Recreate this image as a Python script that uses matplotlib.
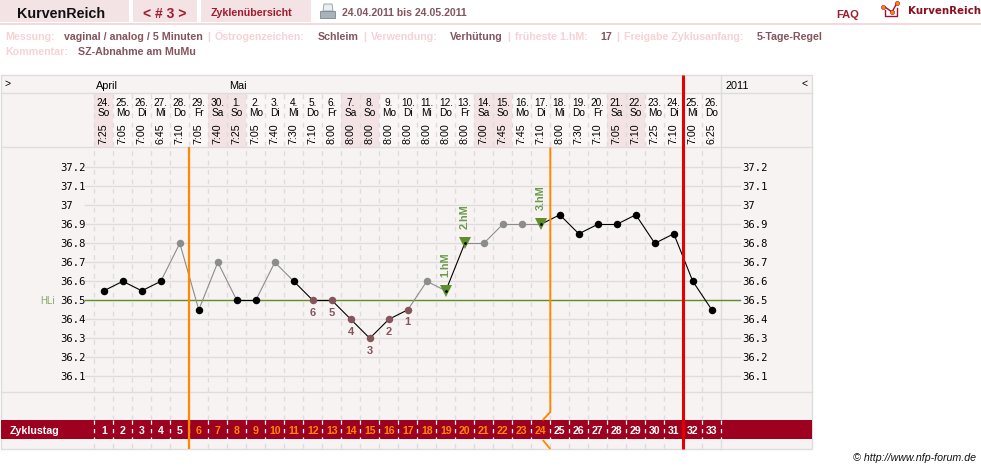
import matplotlib
matplotlib.use("Agg")
import matplotlib.pyplot as plt
from matplotlib.patches import Rectangle, Polygon

# Cycle data
cycle_days = list(range(1, 34))
temps = [36.55, 36.6, 36.55, 36.6, 36.8, 36.45, 36.7, 36.5, 36.5, 36.7, 36.6,
         36.5, 36.5, 36.4, 36.3, 36.4, 36.45, 36.6, 36.55, 36.8, 36.8, 36.9,
         36.9, 36.9, 36.95, 36.85, 36.9, 36.9, 36.95, 36.8, 36.85, 36.6, 36.45]
dates = ["24.", "25.", "26.", "27.", "28.", "29.", "30.", "1.", "2.", "3.", "4.",
         "5.", "6.", "7.", "8.", "9.", "10.", "11.", "12.", "13.", "14.", "15.",
         "16.", "17.", "18.", "19.", "20.", "21.", "22.", "23.", "24.", "25.", "26."]
weekdays = ["So", "Mo", "Di", "Mi", "Do", "Fr", "Sa", "So", "Mo", "Di", "Mi",
            "Do", "Fr", "Sa", "So", "Mo", "Di", "Mi", "Do", "Fr", "Sa", "So",
            "Mo", "Di", "Mi", "Do", "Fr", "Sa", "So", "Mo", "Di", "Mi", "Do"]
times = ["7:25", "7:05", "7:00", "6:45", "7:10", "7:05", "7:40", "7:25", "7:05",
         "7:40", "7:30", "7:10", "8:00", "8:00", "8:00", "8:00", "8:00", "8:00",
         "8:00", "8:00", "7:00", "7:45", "7:45", "7:10", "8:00", "7:30", "7:10",
         "7:05", "7:10", "7:25", "7:10", "7:00", "6:25"]
excluded_days = [5, 7, 10, 18, 21, 22, 23]
low_days = [12, 13, 14, 15, 16, 17]
low_labels = ["6", "5", "4", "3", "2", "1"]
hm_days = [19, 20, 24]
hm_labels = ["1.hM", "2.hM", "3.hM"]
temp_ticks = [37.2, 37.1, 37, 36.9, 36.8, 36.7, 36.6, 36.5, 36.4, 36.3, 36.2, 36.1]
hli_temp = 36.5
infertile_days = (6, 24)
today_boundary = 31.5

# Colours
PANEL = "#f8f3f3"
PINK = "#f3e3e5"
RULE = "#dedcdc"
BAND = "#9e0020"
ORANGE = "#ff8800"
RED = "#e60000"
BROWN = "#85555c"
LABEL_PINK = "#f7d2d5"
DARK_RED = "#a01c2c"
GREEN = "#5f8f2a"
GREY = "#8c8c8c"

NARROW = ["Liberation Sans Narrow", "Liberation Sans"]
SANS = ["Liberation Sans"]
MONO = ["DejaVu Sans Mono"]

COL_LEFT = 94.3
COL_W = 19.0
CHART_TOP = 148.0
CHART_BOTTOM = 392.0
WIDTH, HEIGHT = 981, 469


def col_px(day):
    return COL_LEFT + (day - 0.5) * COL_W


fig = plt.figure(figsize=(WIDTH / 100, HEIGHT / 100), dpi=100, facecolor="white")

# Page furniture is laid out in pixels
page = fig.add_axes([0, 0, 1, 1])
page.set_xlim(0, WIDTH)
page.set_ylim(HEIGHT, 0)
page.axis("off")


def rect(x0, y0, x1, y1, color, z=1):
    page.add_patch(Rectangle((x0, y0), x1 - x0, y1 - y0, facecolor=color, edgecolor="none", zorder=z))


def label(x, y, s, size=8, color="black", weight="normal", family=SANS, ha="left", va="center_baseline"):
    page.text(x, y, s, fontsize=size, color=color, fontweight=weight, family=family,
              ha=ha, va=va, zorder=8)


# Top tabs
rect(0, 0, 128.5, 22.5, PINK)
rect(133, 0, 197, 22.5, PINK)
rect(201, 0, 311, 22.5, PINK)
rect(0, 23, WIDTH, 25, "#f3d9dc")
label(16.5, 12.5, "KurvenReich", size=10.3, weight="bold", color="#111111")
label(143, 12.5, "< # 3 >", size=10, weight="bold", color=DARK_RED)
label(211, 12.5, "Zyklenübersicht", size=7.7, weight="bold", color=DARK_RED)
label(342, 12.5, "24.04.2011 bis 24.05.2011", size=7.6, weight="bold", color=BROWN)
label(836, 14.5, "FAQ", size=8, weight="bold", color=DARK_RED)
label(908, 10.5, "KurvenReich", size=7.4, weight="bold", color="#8a0f20", family=["DejaVu Sans"])

# Printer icon
page.add_patch(Polygon([(324, 4), (332, 4), (333, 11), (323, 11)], facecolor="#e8eef2", edgecolor="#8f9aa3", lw=0.6))
page.add_patch(Polygon([(320, 11), (335, 11), (335, 18), (320, 18)], facecolor="#a9b2b8", edgecolor="#7d868c", lw=0.6))

# Logo icon
page.plot([885, 885, 897, 897], [10, 16, 16, 8], color="#a01030", lw=1.0)
page.plot([885, 892, 897], [7, 12, 3], color="#a01030", lw=1.0)
page.plot([883, 892, 897], [7, 12, 3], "o", color=ORANGE, ms=3, mec="#a01030", mew=0.4)

# Meta rows
meta_row = [(5, "Messung:", LABEL_PINK), (64, "vaginal / analog / 5 Minuten", BROWN),
            (207, "|", LABEL_PINK), (215, "Östrogenzeichen:", LABEL_PINK),
            (318, "Schleim", BROWN), (363, "|", LABEL_PINK), (371, "Verwendung:", LABEL_PINK),
            (450, "Verhütung", BROWN), (507, "|", LABEL_PINK), (515, "früheste 1.hM:", LABEL_PINK),
            (600, "17", BROWN), (616, "|", LABEL_PINK), (624, "Freigabe Zyklusanfang:", LABEL_PINK),
            (757, "5-Tage-Regel", BROWN)]
for x, s, c in meta_row:
    label(x, 40, s, size=7.7, weight="bold", color=c, va="baseline")
label(5, 55, "Kommentar:", size=7.7, weight="bold", color=LABEL_PINK, va="baseline")
label(78, 55, "SZ-Abnahme am MuMu", size=7.7, weight="bold", color=BROWN, va="baseline")

# Chart panel
rect(0.5, 75, 811.5, 449.5, PANEL)
rect(COL_LEFT, 94, COL_LEFT + 33 * COL_W, 147.5, "#faf6f6", z=1.1)
for day, wd in zip(cycle_days, weekdays):
    if wd in ("Sa", "So"):
        rect(col_px(day) - COL_W / 2, 94, col_px(day) + COL_W / 2, 147.5, PINK, z=1.2)
page.add_patch(Rectangle((0.5, 75), 811, 374.5, facecolor="none", edgecolor=RULE, lw=1.0, zorder=2))
for y in (93, 147.5, 392.5):
    page.plot([0.5, 811.5], [y, y], color=RULE, lw=1.0, zorder=2)

# Dashed day separators
for i in range(33):
    x = COL_LEFT + i * COL_W
    page.plot([x, x], [94, 449], color=RULE, lw=1.0, dashes=(3.4, 3.4), zorder=2)
x_end = COL_LEFT + 33 * COL_W
page.plot([x_end, x_end], [75, 449.5], color=RULE, lw=1.0, zorder=2)

# Zyklustag band
rect(0.5, 420, 811.5, 439.5, BAND, z=3)
for i in range(34):
    x = COL_LEFT + i * COL_W
    page.plot([x, x], [420, 439.5], color="white", lw=0.9, dashes=(3.4, 3.4), zorder=3.1)
label(10, 430, "Zyklustag", size=7.7, weight="bold", color="white")
for day in cycle_days:
    c = ORANGE if infertile_days[0] <= day <= infertile_days[1] else "white"
    label(col_px(day), 430, str(day), size=7.6, weight="bold", color=c, ha="center")

# Header rows
label(4.5, 82.5, ">", size=7.5, family=SANS)
label(96, 85, "April", size=7.8, family=NARROW)
label(229, 85, "Mai", size=7.8, family=NARROW)
label(726, 85, "2011", size=7.8, family=NARROW)
label(801, 83, "<", size=7.5, family=SANS)
for day, d, wd, t in zip(cycle_days, dates, weekdays, times):
    x = col_px(day)
    label(x, 101.5, d, size=7.3, family=NARROW, ha="center")
    label(x, 111.5, wd, size=7.3, family=NARROW, ha="center")
    page.text(x, 134, t, fontsize=7.7, family=NARROW, rotation=90, ha="center", va="center", zorder=8)

# Temperature chart in its own data coordinates
ax = fig.add_axes([COL_LEFT / WIDTH, 1 - CHART_BOTTOM / HEIGHT,
                   33 * COL_W / WIDTH, (CHART_BOTTOM - CHART_TOP) / HEIGHT])
ax.set_xlim(0.5, 33.5)
px_per_deg = 190.0
y_372 = 167.3
ax.set_ylim(37.2 - (CHART_BOTTOM - y_372) / px_per_deg, 37.2 + (y_372 - CHART_TOP) / px_per_deg)
ax.axis("off")
ax.patch.set_alpha(0)

# Grid lines run past the day columns to reach the tick labels
x_left_grid = 0.5 - (COL_LEFT - 85) / COL_W
x_right_grid = 33.5 + (740 - x_end) / COL_W
for t in temp_ticks:
    ax.plot([x_left_grid, x_right_grid], [t, t], color=RULE, lw=1.0, zorder=1, clip_on=False)
    ax.text(x_left_grid - 25 / COL_W, t, str(t), fontsize=7.6, family=MONO, ha="left", va="center_baseline", clip_on=False)
    ax.text(x_right_grid + 2 / COL_W, t, str(t), fontsize=7.6, family=MONO, ha="left", va="center_baseline", clip_on=False)
ax.plot([x_left_grid, x_right_grid], [hli_temp, hli_temp], color=GREEN, lw=1.0, zorder=1.5, clip_on=False)
ax.text(x_left_grid - 45 / COL_W, hli_temp, "HLi", fontsize=7, family=SANS, color="#86a86a", ha="left", va="center_baseline", clip_on=False)

# Curve segments, thin grey wherever an excluded reading is involved
for i in range(len(cycle_days) - 1):
    d0, d1 = cycle_days[i], cycle_days[i + 1]
    grey = d0 in excluded_days or d1 in excluded_days
    ax.plot([d0, d1], [temps[i], temps[i + 1]], color=GREY if grey else "black",
            lw=0.8, zorder=3, solid_capstyle="round")

# Readings
for day, t in zip(cycle_days, temps):
    if day in hm_days:
        ax.plot(day, t, marker="v", ms=8.5, color=GREEN, mew=0, zorder=4)
        ax.plot(day, t, marker="o", ms=2, color="black", mew=0, zorder=5)
    else:
        if day in excluded_days:
            c = GREY
        elif day in low_days:
            c = BROWN
        else:
            c = "black"
        ax.plot(day, t, marker="o", ms=5.4, color=c, mew=0, zorder=4)

for day, s in zip(low_days, low_labels):
    ax.annotate(s, (day, temps[day - 1]), xytext=(0, -9), textcoords="offset points", fontsize=8,
                fontweight="bold", family=SANS, color=BROWN, ha="center", va="center")
for day, s in zip(hm_days, hm_labels):
    ax.annotate(s, (day, temps[day - 1]), xytext=(0, 10), textcoords="offset points", fontsize=7.8,
                fontweight="bold", family=SANS, color="#6a9a4a", ha="center", va="bottom", rotation=90,
                annotation_clip=False)

# Infertile window boundaries and the end-of-cycle marker
page2 = fig.add_axes([0, 0, 1, 1])
page2.set_xlim(0, WIDTH)
page2.set_ylim(HEIGHT, 0)
page2.axis("off")
page2.patch.set_alpha(0)
x_start = col_px(infertile_days[0]) - COL_W / 2
x_stop = col_px(infertile_days[1]) + COL_W / 2
page2.plot([x_start, x_start], [147.5, 449.5], color=ORANGE, lw=1.6, solid_capstyle="butt")
page2.plot([x_stop, x_stop, x_stop - 7.5], [147.5, 412, 420], color=ORANGE, lw=1.4, solid_capstyle="butt")
page2.plot([x_stop - 7.5, x_stop], [440, 449], color=ORANGE, lw=1.3, solid_capstyle="butt")
x_today = col_px(today_boundary)
page2.plot([x_today, x_today], [75, 449.5], color=RED, lw=2.2, solid_capstyle="butt")

page2.text(853, 457, "© http://www.nfp-forum.de", fontsize=7.7, family=SANS, style="italic", color="#111111",
           ha="left", va="center_baseline")

fig.savefig("out.png", dpi=100)
